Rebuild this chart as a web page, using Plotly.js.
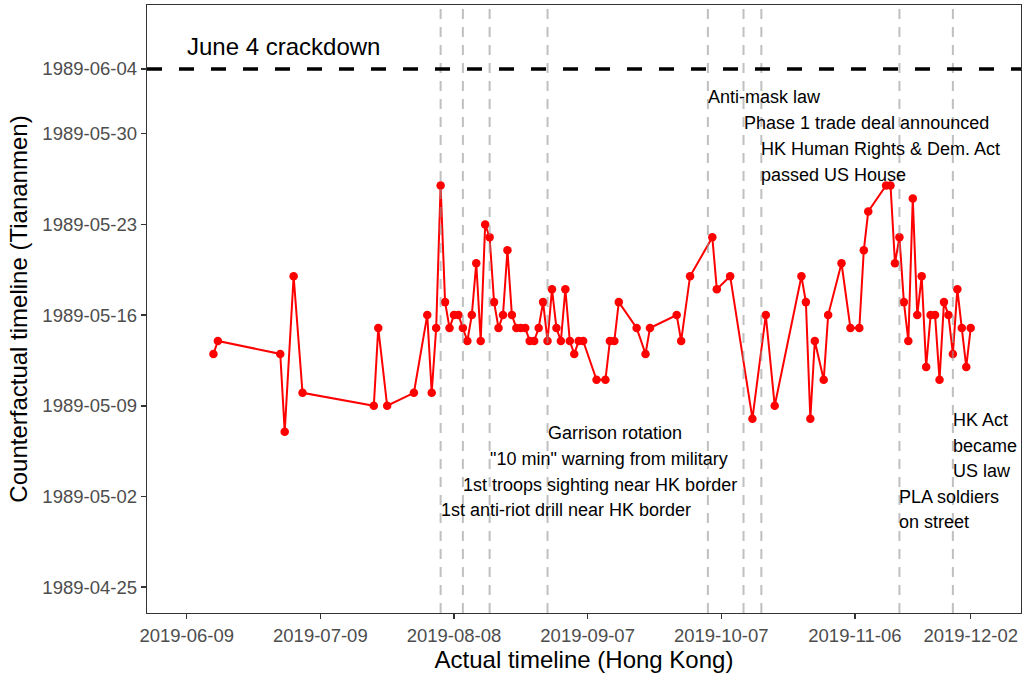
<!DOCTYPE html>
<html>
<head>
<meta charset="utf-8">
<script src="https://cdn.plot.ly/plotly-3.0.1.min.js"></script>
<style>html,body{margin:0;padding:0;background:#fff;}#chart{width:1023px;height:677px;}</style>
</head>
<body>
<div id="chart"></div>
<script>
// Actual timeline (Hong Kong)
const actualDates = [
 '2019-06-15','2019-06-16','2019-06-30','2019-07-01','2019-07-03','2019-07-05',
 '2019-07-21','2019-07-22','2019-07-24','2019-07-30','2019-08-02','2019-08-03',
 '2019-08-04','2019-08-05','2019-08-06','2019-08-07','2019-08-08','2019-08-09',
 '2019-08-10','2019-08-11','2019-08-12','2019-08-13','2019-08-14','2019-08-15',
 '2019-08-16','2019-08-17','2019-08-18','2019-08-19','2019-08-20','2019-08-21',
 '2019-08-22','2019-08-23','2019-08-24','2019-08-25','2019-08-26','2019-08-27',
 '2019-08-28','2019-08-29','2019-08-30','2019-08-31','2019-09-01','2019-09-02',
 '2019-09-03','2019-09-04','2019-09-05','2019-09-06','2019-09-09','2019-09-11',
 '2019-09-12','2019-09-13','2019-09-14','2019-09-18','2019-09-20','2019-09-21',
 '2019-09-27','2019-09-28','2019-09-30','2019-10-05','2019-10-06','2019-10-09',
 '2019-10-14','2019-10-17','2019-10-19','2019-10-25','2019-10-26','2019-10-27',
 '2019-10-28','2019-10-30','2019-10-31','2019-11-03','2019-11-05','2019-11-07',
 '2019-11-08','2019-11-09','2019-11-13','2019-11-14','2019-11-15','2019-11-16',
 '2019-11-17','2019-11-18','2019-11-19','2019-11-20','2019-11-21','2019-11-22',
 '2019-11-23','2019-11-24','2019-11-25','2019-11-26','2019-11-27','2019-11-28',
 '2019-11-29','2019-11-30','2019-12-01','2019-12-02'
];
// Counterfactual timeline (Tiananmen), day of May 1989
const counterfactualDay = [
 13,14,13,7,19,10,
 9,15,9,10,16,10,
 15,26,17,15,16,16,
 15,14,16,20,14,23,
 22,17,15,16,21,16,
 15,15,15,14,14,15,
 17,14,18,15,14,18,
 14,13,14,14,11,11,
 14,14,17,15,13,15,
 16,14,19,22,18,19,
 8,16,9,19,17,8,
 14,11,16,20,15,15,
 21,24,26,26,20,22,
 17,14,25,16,19,12,
 16,16,11,17,16,13,
 18,15,12,15
];
const eventDates = ['2019-08-05','2019-08-10','2019-08-16','2019-08-29','2019-10-04','2019-10-12','2019-10-16','2019-11-16','2019-11-28'];
const crackdownDate = '1989-06-04';
const xTicks = ['2019-06-09','2019-07-09','2019-08-08','2019-09-07','2019-10-07','2019-11-06','2019-12-02'];
const yTicks = ['1989-04-25','1989-05-02','1989-05-09','1989-05-16','1989-05-23','1989-05-30','1989-06-04'];
// event labels: [event date, text, label row (pixel row of its centre)]
const eventLabels = [
 ['2019-10-04','Anti-mask law', 97],
 ['2019-10-12','Phase 1 trade deal announced', 123],
 ['2019-10-16','HK Human Rights & Dem. Act', 149],
 ['2019-10-16','passed US House', 175],
 ['2019-08-29','Garrison rotation', 433],
 ['2019-08-16','"10 min" warning from military', 459],
 ['2019-08-10','1st troops sighting near HK border', 485],
 ['2019-08-05','1st anti-riot drill near HK border', 510],
 ['2019-11-28','HK Act', 420],
 ['2019-11-28','became', 446],
 ['2019-11-28','US law', 471],
 ['2019-11-16','PLA soldiers', 497],
 ['2019-11-16','on street', 522]
];

const pad = n => (n < 10 ? '0' + n : '' + n);
const cfDates = counterfactualDay.map(d => '1989-05-' + pad(d));

const FONT = 'Liberation Sans, Arial, Helvetica, sans-serif';
const H = 677, T = 5, B = 64;
const plotH = H - T - B;
const pyToPaper = py => (H - B - py) / plotH;

const shapes = eventDates.map(d => ({
  type: 'line', xref: 'x', yref: 'paper', x0: d, x1: d, y0: 0, y1: 1,
  line: {color: 'rgba(150,150,150,0.6)', width: 2, dash: '10px,8px'}, layer: 'above'
}));
shapes.push({
  type: 'line', xref: 'paper', yref: 'y', x0: 0, x1: 1, y0: crackdownDate, y1: crackdownDate,
  line: {color: '#000', width: 3.5, dash: '15px,17px'}, layer: 'above'
});

const annotations = eventLabels.map(e => ({
  x: e[0], xref: 'x', y: pyToPaper(e[2]), yref: 'paper', text: e[1],
  showarrow: false, xanchor: 'left', yanchor: 'middle', xshift: -2,
  font: {family: FONT, size: 18, color: '#000'}
}));
annotations.push({
  x: '2019-06-09', xref: 'x', y: pyToPaper(46), yref: 'paper', text: 'June 4 crackdown',
  showarrow: false, xanchor: 'left', yanchor: 'middle', xshift: -2,
  font: {family: FONT, size: 24, color: '#000'}
});

const trace = {
  x: actualDates, y: cfDates, type: 'scatter', mode: 'lines+markers',
  line: {color: '#ff0000', width: 2},
  marker: {color: '#ff0000', size: 8.5},
  hoverinfo: 'x+y'
};

const layout = {
  width: 1023, height: 677,
  margin: {l: 147, r: 2, t: T, b: B, pad: 0},
  paper_bgcolor: '#fff', plot_bgcolor: '#fff',
  showlegend: false,
  font: {family: FONT, color: '#000'},
  xaxis: {
    type: 'date', range: ['2019-05-31 02:00', '2019-12-13 07:00'],
    tickmode: 'array', tickvals: xTicks, ticktext: xTicks,
    ticks: 'outside', ticklen: 5, tickwidth: 1.5, tickcolor: '#333',
    tickfont: {family: FONT, size: 18.5, color: '#4d4d4d'},
    showgrid: false, zeroline: false,
    showline: true, linecolor: '#333', linewidth: 1.3, mirror: true,
    title: {text: 'Actual timeline (Hong Kong)', font: {family: FONT, size: 24, color: '#000'}, standoff: 6}
  },
  yaxis: {
    type: 'date', range: ['1989-04-23 00:00', '1989-06-08 22:30'],
    tickmode: 'array', tickvals: yTicks, ticktext: yTicks,
    ticks: 'outside', ticklen: 5, tickwidth: 1.5, tickcolor: '#333',
    tickfont: {family: FONT, size: 18.5, color: '#4d4d4d'},
    showgrid: false, zeroline: false,
    showline: true, linecolor: '#333', linewidth: 1.3, mirror: true,
    title: {text: 'Counterfactual timeline (Tiananmen)', font: {family: FONT, size: 24, color: '#000'}, standoff: 8}
  },
  shapes: shapes,
  annotations: annotations
};

Plotly.newPlot('chart', [trace], layout, {displayModeBar: false, staticPlot: true});
</script>
</body>
</html>
